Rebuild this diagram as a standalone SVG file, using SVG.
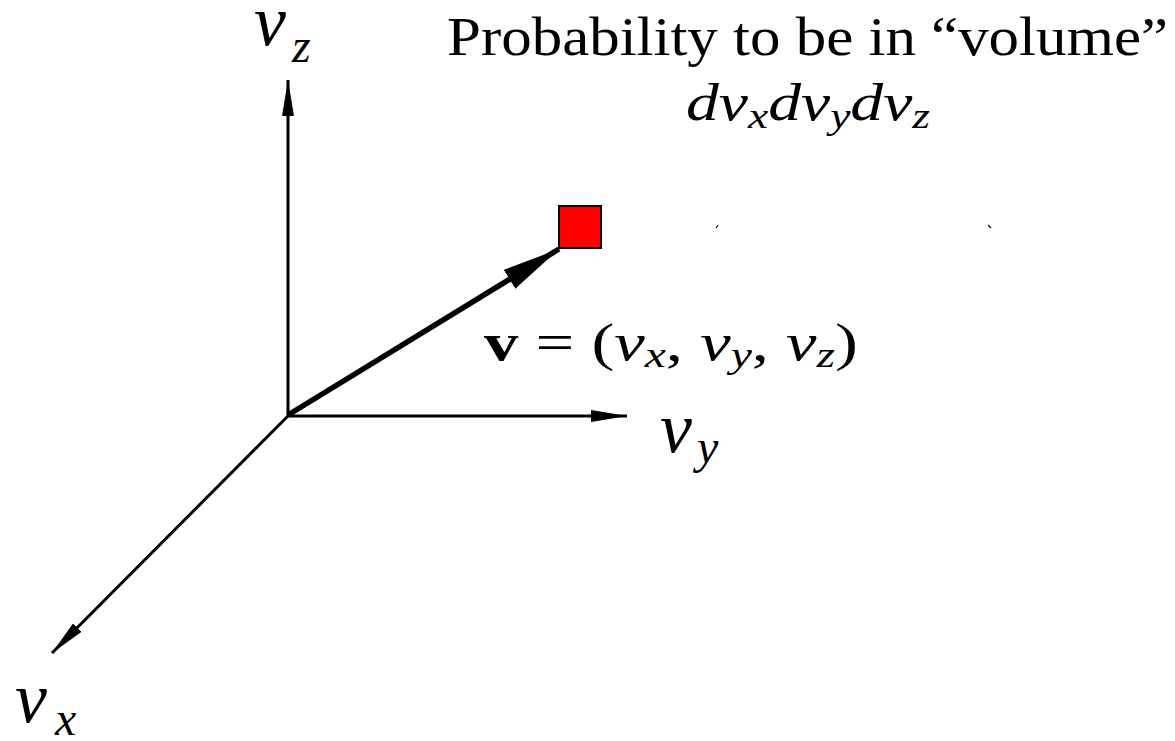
<svg xmlns="http://www.w3.org/2000/svg" width="1175" height="741" viewBox="0 0 1175 741">
<style>
.ax{stroke:#000;stroke-width:3;fill:none}
.vec{stroke:#000;stroke-width:5.5;fill:none}
.m{font-family:"Liberation Serif","DejaVu Serif",serif;font-style:italic;fill:#000}
.r{font-family:"Liberation Serif","DejaVu Serif",serif;fill:#000}
.big{font-size:72px}
.sub{font-size:48px}
</style>
<defs>
<marker id="ah" viewBox="0 0 36 12" refX="36" refY="6" markerWidth="36" markerHeight="12" markerUnits="userSpaceOnUse" orient="auto">
<path d="M0,0 L36,6 L0,12 Z" fill="#000"/>
</marker>
<marker id="bh" viewBox="0 0 58 22" refX="58" refY="11" markerWidth="58" markerHeight="22" markerUnits="userSpaceOnUse" orient="auto">
<path d="M0,0 L58,11 L0,22 Z" fill="#000"/>
</marker>
</defs>
<g id="connectors">
<line class="ax" x1="288" y1="416" x2="288" y2="80" marker-end="url(#ah)"/>
<line class="ax" x1="287" y1="416" x2="627" y2="416" marker-end="url(#ah)"/>
<line class="ax" x1="288" y1="416" x2="52" y2="653" marker-end="url(#ah)"/>
<line class="vec" x1="288" y1="415" x2="559" y2="249" marker-end="url(#bh)"/>
</g>
<g id="volume">
<rect x="559" y="206" width="42" height="42" fill="#ff0000" stroke="#000" stroke-width="2"/>
</g>
<g id="marks">
<path d="M716,228 L718,225" stroke="#000" stroke-width="1.2"/>
<path d="M988,225 L991,228" stroke="#000" stroke-width="1.2"/>
</g>
<g id="label-vz">
<text class="m big" x="254" y="45">v</text>
<text class="m sub" x="292" y="62">z</text>
</g>
<g id="label-vy">
<text class="m big" x="660" y="452">v</text>
<text class="m sub" x="697" y="463">y</text>
</g>
<g id="label-vx">
<text class="m big" x="15" y="722">v</text>
<text class="m sub" x="55" y="735">x</text>
</g>
<g id="title">
<text class="r" x="447" y="55" font-size="54" textLength="721" lengthAdjust="spacingAndGlyphs">Probability to be in “volume”</text>
<text class="m" x="686" y="120" font-size="52" textLength="244" lengthAdjust="spacingAndGlyphs">d<tspan>v</tspan><tspan font-size="36" dy="8">x</tspan><tspan dy="-8">dv</tspan><tspan font-size="36" dy="8">y</tspan><tspan dy="-8">dv</tspan><tspan font-size="36" dy="8">z</tspan></text>
</g>
<g id="label-v">
<text class="r" x="484" y="360" font-size="52" textLength="374" lengthAdjust="spacingAndGlyphs"><tspan font-weight="bold">v</tspan> = (<tspan font-style="italic">v</tspan><tspan font-style="italic" font-size="36" dy="7">x</tspan><tspan dy="-7">, </tspan><tspan font-style="italic">v</tspan><tspan font-style="italic" font-size="36" dy="7">y</tspan><tspan dy="-7">, </tspan><tspan font-style="italic">v</tspan><tspan font-style="italic" font-size="36" dy="7">z</tspan><tspan dy="-7">)</tspan></text>
</g>
</svg>
